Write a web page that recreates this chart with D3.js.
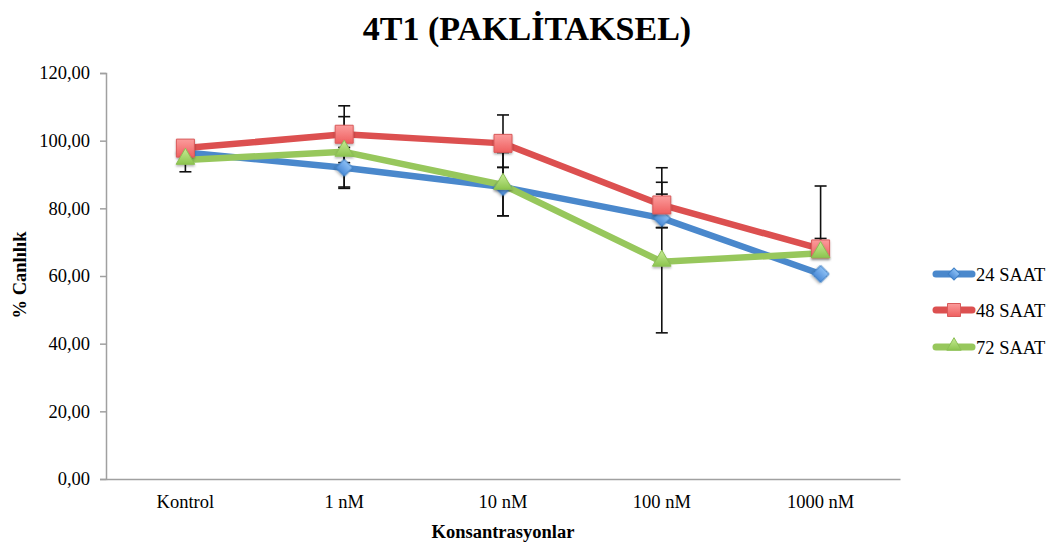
<!DOCTYPE html>
<html><head><meta charset="utf-8">
<script src="https://cdn.jsdelivr.net/npm/d3@7"></script>
<style>body{margin:0;background:#fff}svg{display:block}</style>
</head><body><svg id="c" width="1053" height="548"></svg>
<script>
const categories = ["Kontrol", "1 nM", "10 nM", "100 nM", "1000 nM"];
const seriesNames = ["24 SAAT", "48 SAAT", "72 SAAT"];
const values24 = [96.5, 92.0, 86.3, 77.1, 60.6];
const values48 = [97.8, 101.9, 99.2, 81.0, 68.0];
const values72 = [94.3, 96.7, 86.9, 64.2, 66.7];
const errLow24 = [94.5, 85.9, 77.8, 74.3, 60.0];
const errHigh24 = [98.5, 98.0, 92.1, 92.0, 61.2];
const errLow48 = [95.8, 93.5, 92.1, 74.3, 68.0];
const errHigh48 = [99.8, 110.3, 107.6, 87.7, 71.1];
const errLow72 = [90.8, 86.3, 77.8, 43.2, 66.7];
const errHigh72 = [97.8, 107.1, 96.5, 84.2, 86.6];
const yTicks = [0, 20, 40, 60, 80, 100, 120];

(function () {
const series = [
  {name: seriesNames[0], vals: values24, lo: errLow24, hi: errHigh24, color: "#4a88cc", fill: ["#8cc0f5", "#4a8ad6"], stroke: "#3f7fc4", shape: "diamond"},
  {name: seriesNames[1], vals: values48, lo: errLow48, hi: errHigh48, color: "#dc5050", fill: ["#fb9c9c", "#ef5f5f"], stroke: "#d85a5a", shape: "square"},
  {name: seriesNames[2], vals: values72, lo: errLow72, hi: errHigh72, color: "#97c75c", fill: ["#c8ec96", "#8cc44e"], stroke: "#8cbf55", shape: "triangle"}
];

const svg = d3.select("#c");
const mLeft = 106, mRight = 900, mTop = 73, mBottom = 479;
const x = d3.scaleBand().domain(categories).range([mLeft, mRight]).padding(0);
const y = d3.scaleLinear().domain([0, 120]).range([mBottom, mTop]);
const cx = c => x(c) + x.bandwidth() / 2;
const serif = "'Liberation Serif','Times New Roman',Times,serif";

const defs = svg.append("defs");
series.forEach((s, i) => {
  const g = defs.append("linearGradient").attr("id", "g" + i).attr("x1", 0).attr("y1", 0).attr("x2", 0).attr("y2", 1);
  g.append("stop").attr("offset", "0%").attr("stop-color", s.fill[0]);
  g.append("stop").attr("offset", "100%").attr("stop-color", s.fill[1]);
});
const flt = defs.append("filter").attr("id", "sh").attr("x", "-50%").attr("y", "-50%").attr("width", "200%").attr("height", "200%");
flt.append("feDropShadow").attr("dx", 0).attr("dy", 1.5).attr("stdDeviation", 1.2).attr("flood-color", "#000").attr("flood-opacity", 0.3);

svg.append("text").attr("x", 527).attr("y", 40).attr("text-anchor", "middle")
  .style("font-family", serif).style("font-weight", "bold").style("font-size", "34px").attr("fill", "#000")
  .text("4T1 (PAKLİTAKSEL)");

const yAxis = svg.append("g").attr("transform", `translate(${mLeft},0)`)
  .call(d3.axisLeft(y).tickValues(yTicks).tickSize(6).tickPadding(10)
    .tickFormat(d => d3.format(".2f")(d).replace(".", ",")));
yAxis.select(".domain").attr("stroke", "#a0a0a0").attr("stroke-width", 1.5);
yAxis.selectAll(".tick line").attr("stroke", "#a0a0a0").attr("stroke-width", 1.5);
yAxis.selectAll("text").style("font-family", serif).style("font-size", "18.5px").attr("fill", "#000");

const xAxis = svg.append("g").attr("transform", `translate(0,${mBottom})`)
  .call(d3.axisBottom(x).tickSize(0).tickPadding(16));
xAxis.select(".domain").attr("stroke", "#a0a0a0").attr("stroke-width", 1.5);
xAxis.selectAll("text").style("font-family", serif).style("font-size", "18.5px").attr("fill", "#000");

svg.append("text").attr("x", 503).attr("y", 538).attr("text-anchor", "middle")
  .style("font-family", serif).style("font-weight", "bold").style("font-size", "18.5px").text("Konsantrasyonlar");
svg.append("text").attr("transform", "translate(26,275) rotate(-90)").attr("text-anchor", "middle")
  .style("font-family", serif).style("font-weight", "bold").style("font-size", "18.5px").text("% Canlılık");

function symbolPath(shape) {
  if (shape === "square") return d3.symbol(d3.symbolSquare, 18 * 18)();
  if (shape === "triangle") return d3.symbol(d3.symbolTriangle, 150)();
  return d3.symbol(d3.symbolSquare, 12 * 12)();
}
function symbolTransform(shape, px, py) {
  if (shape === "diamond") return `translate(${px},${py}) rotate(45)`;
  if (shape === "triangle") return `translate(${px},${py - 1})`;
  return `translate(${px},${py})`;
}

const line = d3.line().x((d, i) => cx(categories[i])).y(d => y(d));

series.forEach(s => {
  svg.append("path").attr("d", line(s.vals)).attr("fill", "none")
    .attr("stroke", s.color).attr("stroke-width", 6.5).attr("stroke-linejoin", "round");
});

series.forEach(s => {
  const g = svg.append("g");
  categories.forEach((c, i) => {
    const px = cx(c);
    g.append("line").attr("x1", px).attr("x2", px).attr("y1", y(s.lo[i])).attr("y2", y(s.hi[i]))
      .attr("stroke", "#111").attr("stroke-width", 1.6);
    [s.lo[i], s.hi[i]].forEach(v => {
      if (v === s.vals[i]) return;
      g.append("line").attr("x1", px - 6).attr("x2", px + 6).attr("y1", y(v)).attr("y2", y(v))
        .attr("stroke", "#111").attr("stroke-width", 1.6);
    });
  });
});

series.forEach((s, si) => {
  categories.forEach((c, i) => {
    svg.append("path").attr("d", symbolPath(s.shape))
      .attr("transform", symbolTransform(s.shape, cx(c), y(s.vals[i])))
      .attr("fill", `url(#g${si})`).attr("stroke", s.stroke).attr("stroke-width", 1)
      .attr("filter", "url(#sh)");
  });
});

const legY = [274, 310, 347];
series.forEach((s, i) => {
  const g = svg.append("g").attr("transform", `translate(0,${legY[i]})`);
  g.append("line").attr("x1", 936).attr("x2", 972).attr("y1", 0).attr("y2", 0)
    .attr("stroke", s.color).attr("stroke-width", 7).attr("stroke-linecap", "round");
  const sz = s.shape === "square" ? 13 * 13 : s.shape === "triangle" ? 90 : 8.5 * 8.5;
  const sym = s.shape === "triangle" ? d3.symbolTriangle : d3.symbolSquare;
  g.append("path").attr("d", d3.symbol(sym, sz)())
    .attr("transform", s.shape === "diamond" ? "translate(954,0) rotate(45)" : s.shape === "triangle" ? "translate(954,-1)" : "translate(954,0)")
    .attr("fill", `url(#g${i})`).attr("stroke", s.stroke).attr("stroke-width", 1);
  g.append("text").attr("x", 976).attr("y", 6.5).style("font-family", serif).style("font-size", "18.5px")
    .attr("fill", "#000").text(s.name);
});
})();
</script>
</body></html>
